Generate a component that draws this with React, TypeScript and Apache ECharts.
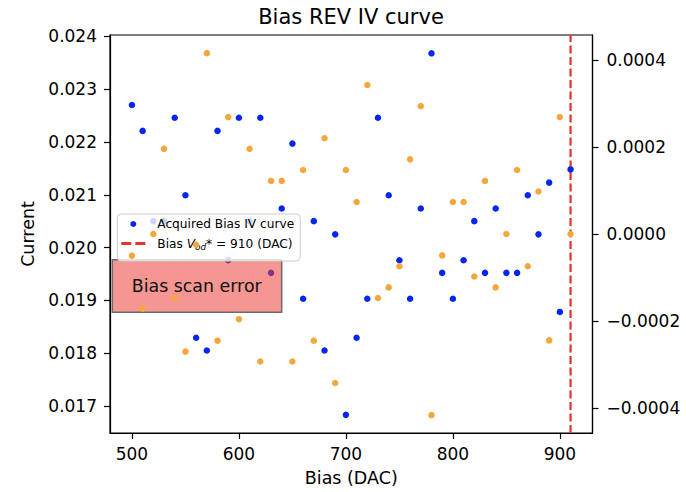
import React, { useEffect, useRef } from "react";
import * as echarts from "echarts";

const FONT = "DejaVu Sans";

const biasDac = [
  500, 510, 520, 530, 540, 550, 560, 570, 580, 590, 600, 610, 620, 630,
  640, 650, 660, 670, 680, 690, 700, 710, 720, 730, 740, 750, 760, 770,
  780, 790, 800, 810, 820, 830, 840, 850, 860, 870, 880, 890, 900, 910,
];

const acquiredCurrent = [
  0.0227, 0.02221, 0.0205, 0.0205, 0.02246, 0.02099, 0.01829, 0.01805,
  0.02221, 0.01976, 0.02246, 0.0205, 0.02246, 0.01952, 0.02074, 0.02197,
  0.01903, 0.0205, 0.01805, 0.02025, 0.01683, 0.01829, 0.01903, 0.02246,
  0.02099, 0.01976, 0.01903, 0.02074, 0.02368, 0.01952, 0.01903, 0.01976,
  0.0205, 0.01952, 0.02074, 0.01952, 0.01952, 0.02099, 0.02025, 0.02123,
  0.01878, 0.02148,
];

const revDeviation = [
  -0.0000497, -0.0001714, 0.0, 0.0001956, -0.000147, -0.00027, -0.0000246,
  0.0004153, -0.000245, 0.0002685, -0.0001956, 0.0001956, -0.0002929,
  0.0001219, 0.0001219, -0.0002929, 0.000147, -0.000245, 0.00022,
  -0.0003423, 0.000147, 0.0000734, 0.0003423, -0.000147, -0.0001226,
  -0.0000741, 0.0001714, 0.0002936, -0.000416, -0.000049, 0.0000734,
  0.0000734, -0.0000975, 0.0001219, -0.0001226, 0.0, 0.000147, -0.0000741,
  0.0000975, -0.0002443, 0.0002685, 0.0,
];

const xTicks = [500, 600, 700, 800, 900];
const leftTicks = [0.017, 0.018, 0.019, 0.02, 0.021, 0.022, 0.023, 0.024];
const rightTicks = [-0.0004, -0.0002, 0, 0.0002, 0.0004];

const vodDac = 910;

const X_MIN = 479.5;
const X_MAX = 930.5;
const Y_MIN = 0.016486;
const Y_MAX = 0.024027;
const R_MIN = -0.000457;
const R_MAX = 0.000457;

const SCATTER_NAME = "Acquired Bias IV curve";
const LINE_NAME = "Bias Vod* = 910 (DAC)";

const BLUE = "#0526f2";
const ORANGE = "#f5a63c";
const RED = "#e8322b";

export default function App() {
  const ref = useRef<HTMLDivElement>(null);

  useEffect(() => {
    if (!ref.current) return;
    const chart = echarts.init(ref.current, null, { renderer: "svg" });

    const tickStyle = { color: "#000", width: 1.2 };
    const labelBase = { color: "#000", fontSize: 17, fontFamily: FONT };

    chart.setOption({
      animation: false,
      backgroundColor: "#fff",
      title: {
        text: "Bias REV IV curve",
        left: 351,
        top: 5,
        padding: 0,
        textAlign: "center",
        textStyle: {
          fontSize: 21,
          fontWeight: "normal",
          color: "#000",
          fontFamily: FONT,
          lineHeight: 24,
        },
      },
      grid: {
        left: 110,
        right: 93.5,
        top: 35,
        bottom: 56,
        show: true,
        borderColor: "#000",
        borderWidth: 1.2,
        backgroundColor: "transparent",
      },
      legend: {
        orient: "vertical",
        left: 117.3,
        top: 214,
        padding: [3, 6, 10, 4],
        itemGap: 5,
        itemWidth: 24,
        itemHeight: 6,
        selectedMode: false,
        backgroundColor: "rgba(255,255,255,0.8)",
        borderColor: "#cccccc",
        borderWidth: 1,
        borderRadius: 4,
        z: 4,
        data: [
          { name: SCATTER_NAME, icon: "circle", itemStyle: { color: BLUE } },
          {
            name: LINE_NAME,
            icon: "path://M0,0H10V3H0Z M14,0H24V3H14Z",
            itemStyle: { color: RED },
          },
        ],
        formatter: (name: string) =>
          name === LINE_NAME
            ? "{n|Bias }{i|V}{s|od}{n|* = 910 (DAC)}"
            : name,
        textStyle: {
          fontSize: 12.2,
          fontFamily: FONT,
          color: "#000",
          lineHeight: 14,
          padding: [0, 0, 0, 7],
          rich: {
            n: { fontSize: 12.2, fontFamily: FONT, color: "#000", lineHeight: 14 },
            i: {
              fontSize: 12.2,
              fontFamily: FONT,
              fontStyle: "italic",
              color: "#000",
              lineHeight: 14,
            },
            s: {
              fontSize: 8.8,
              fontFamily: FONT,
              fontStyle: "italic",
              color: "#000",
              lineHeight: 9,
              padding: [6, 0, 0, 0],
            },
          },
        },
      },
      xAxis: {
        type: "value",
        min: X_MIN,
        max: X_MAX,
        name: "Bias (DAC)",
        nameLocation: "middle",
        nameGap: 36,
        nameTextStyle: { color: "#000", fontSize: 17.5, fontFamily: FONT },
        axisLine: { show: true, onZero: false, lineStyle: tickStyle },
        axisTick: {
          show: true,
          inside: false,
          length: 6,
          customValues: xTicks,
          lineStyle: tickStyle,
        },
        axisLabel: {
          ...labelBase,
          margin: 12,
          customValues: xTicks,
          formatter: (v: number) => String(Math.round(v)),
        },
        splitLine: { show: false },
      },
      yAxis: [
        {
          type: "value",
          position: "left",
          min: Y_MIN,
          max: Y_MAX,
          name: "Current",
          nameLocation: "middle",
          nameGap: 66,
          nameTextStyle: { color: "#000", fontSize: 17.5, fontFamily: FONT },
          axisLine: { show: true, onZero: false, lineStyle: tickStyle },
          axisTick: {
            show: true,
            inside: false,
            length: 6,
            customValues: leftTicks,
            lineStyle: tickStyle,
          },
          axisLabel: {
            ...labelBase,
            margin: 13,
            customValues: leftTicks,
            formatter: (v: number) => v.toFixed(3),
          },
          splitLine: { show: false },
        },
        {
          type: "value",
          position: "right",
          min: R_MIN,
          max: R_MAX,
          axisLine: { show: true, onZero: false, lineStyle: tickStyle },
          axisTick: {
            show: true,
            inside: false,
            length: 6,
            customValues: rightTicks,
            lineStyle: tickStyle,
          },
          axisLabel: {
            ...labelBase,
            margin: 14,
            customValues: rightTicks,
            formatter: (v: number) => {
              if (Math.abs(v) < 1e-12) return "0.0000";
              return v < 0
                ? "\u2212" + Math.abs(v).toFixed(4)
                : v.toFixed(4);
            },
          },
          splitLine: { show: false },
        },
      ],
      graphic: [
        {
          type: "rect",
          z: 3,
          shape: { x: 112.3, y: 259.7, width: 169.4, height: 52.6 },
          style: {
            fill: "rgba(236,64,58,0.55)",
            stroke: "#6b6b6b",
            lineWidth: 1.5,
          },
        },
        {
          type: "text",
          z: 3,
          x: 196.7,
          y: 285.7,
          style: {
            text: "Bias scan error",
            fontSize: 17.4,
            fontFamily: FONT,
            fill: "#111",
            align: "center",
            verticalAlign: "middle",
          },
        },
      ],
      series: [
        {
          type: "scatter",
          name: SCATTER_NAME,
          xAxisIndex: 0,
          yAxisIndex: 0,
          symbol: "circle",
          symbolSize: 6.5,
          itemStyle: { color: BLUE, opacity: 1 },
          data: biasDac.map((x, i) => [x, acquiredCurrent[i]]),
          z: 2,
        },
        {
          type: "line",
          name: LINE_NAME,
          xAxisIndex: 0,
          yAxisIndex: 0,
          symbol: "none",
          showSymbol: false,
          itemStyle: { color: RED },
          lineStyle: { color: RED, width: 2.2, type: [8, 3.5] },
          data: [
            [vodDac, Y_MIN],
            [vodDac, Y_MAX],
          ],
          z: 1,
        },
        {
          type: "scatter",
          name: "Bias REV deviation",
          xAxisIndex: 0,
          yAxisIndex: 1,
          symbol: "circle",
          symbolSize: 6.5,
          itemStyle: { color: ORANGE, opacity: 1 },
          data: biasDac.map((x, i) => [x, revDeviation[i]]),
          z: 5,
        },
      ],
    });

    return () => {
      chart.dispose();
    };
  }, []);

  return (
    <div
      ref={ref}
      style={{ position: "absolute", left: 0, top: 0, width: 686, height: 492 }}
    />
  );
}
